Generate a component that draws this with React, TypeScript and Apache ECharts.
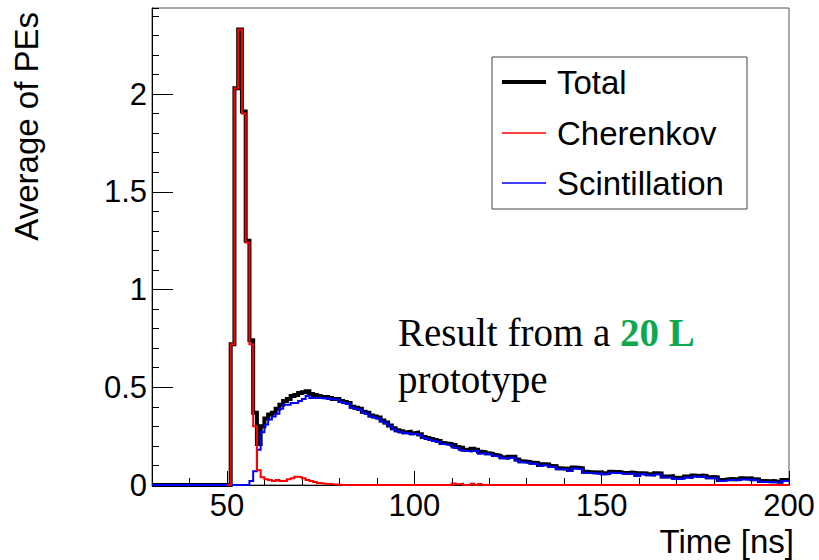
import React, { useEffect, useRef } from "react";
import * as echarts from "echarts";

// Histogram bins: 1 ns wide, left edges starting at binStart
const binStart = 30;
const binWidth = 1;
const cherenkovStart = 50;
const xMin = 30;
const xMax = 200;
const yMax = 2.44;

// Total, bins 30..199
const total = [
  0, 0, 0, 0, 0, 0, 0, 0, 0, 0,
  0, 0, 0, 0, 0, 0, 0, 0, 0, 0,
  0, 0.72, 2.03, 2.33, 1.91, 1.25, 0.74, 0.37, 0.21, 0.30,
  0.34, 0.36, 0.37, 0.39, 0.41, 0.43, 0.44, 0.455, 0.46, 0.47,
  0.475, 0.48, 0.465, 0.46, 0.455, 0.45, 0.45, 0.445, 0.44, 0.44,
  0.43, 0.425, 0.42, 0.40, 0.395, 0.39, 0.375, 0.37, 0.355, 0.35,
  0.345, 0.33, 0.32, 0.305, 0.29, 0.28, 0.275, 0.27, 0.272, 0.265,
  0.268, 0.26, 0.245, 0.24, 0.235, 0.23, 0.225, 0.215, 0.212, 0.21,
  0.205, 0.195, 0.19, 0.18, 0.178, 0.185, 0.18, 0.17, 0.168, 0.162,
  0.16, 0.153, 0.15, 0.142, 0.14, 0.145, 0.145, 0.13, 0.122, 0.12,
  0.118, 0.114, 0.113, 0.102, 0.106, 0.105, 0.097, 0.096, 0.086, 0.085,
  0.084, 0.077, 0.089, 0.088, 0.086, 0.068, 0.066, 0.065, 0.064, 0.065,
  0.06, 0.061, 0.068, 0.067, 0.066, 0.063, 0.062, 0.064, 0.062, 0.051,
  0.06, 0.059, 0.055, 0.054, 0.06, 0.059, 0.043, 0.044, 0.045, 0.037,
  0.036, 0.038, 0.043, 0.042, 0.048, 0.046, 0.049, 0.047, 0.04, 0.041,
  0.039, 0.026, 0.027, 0.03, 0.031, 0.029, 0.03, 0.034, 0.033, 0.034,
  0.03, 0.029, 0.02, 0.021, 0.019, 0.02, 0.018, 0.017, 0.026, 0.025,
];

// Scintillation, bins 30..199
const scintillation = [
  0, 0, 0, 0, 0, 0, 0, 0, 0, 0,
  0, 0, 0, 0, 0, 0, 0, 0, 0, 0,
  0, 0, 0, 0, 0, 0, 0.02, 0.07, 0.18, 0.27,
  0.31, 0.335, 0.35, 0.365, 0.39, 0.41, 0.41, 0.42, 0.42, 0.43,
  0.44, 0.455, 0.445, 0.445, 0.445, 0.442, 0.445, 0.44, 0.437, 0.437,
  0.425, 0.42, 0.415, 0.395, 0.39, 0.385, 0.37, 0.365, 0.35, 0.345,
  0.34, 0.325, 0.315, 0.30, 0.285, 0.275, 0.27, 0.265, 0.267, 0.26,
  0.263, 0.255, 0.24, 0.235, 0.23, 0.225, 0.22, 0.21, 0.207, 0.205,
  0.192, 0.19, 0.178, 0.175, 0.173, 0.174, 0.175, 0.16, 0.163, 0.157,
  0.155, 0.148, 0.145, 0.137, 0.135, 0.14, 0.14, 0.125, 0.117, 0.115,
  0.113, 0.109, 0.108, 0.097, 0.101, 0.1, 0.092, 0.091, 0.081, 0.08,
  0.079, 0.072, 0.084, 0.083, 0.081, 0.063, 0.061, 0.06, 0.059, 0.06,
  0.055, 0.056, 0.063, 0.062, 0.061, 0.058, 0.057, 0.059, 0.057, 0.046,
  0.055, 0.054, 0.05, 0.049, 0.055, 0.054, 0.038, 0.039, 0.04, 0.032,
  0.031, 0.033, 0.038, 0.037, 0.043, 0.041, 0.044, 0.042, 0.035, 0.036,
  0.034, 0.021, 0.022, 0.025, 0.026, 0.024, 0.025, 0.029, 0.028, 0.029,
  0.025, 0.024, 0.015, 0.016, 0.014, 0.015, 0.013, 0.012, 0.021, 0.02,
];

// Cherenkov, bins 50..199
const cherenkov = [
  0, 0.72, 2.03, 2.33, 1.90, 1.24, 0.72, 0.30, 0.075, 0.04,
  0.03, 0.025, 0.02, 0.025, 0.02, 0.02, 0.03, 0.035, 0.042, 0.04,
  0.035, 0.025, 0.02, 0.015, 0.01, 0.008, 0.005, 0.005, 0.003, 0.003,
  0, 0, 0, 0, 0, 0, 0, 0, 0, 0,
  0, 0, 0, 0, 0, 0, 0, 0, 0, 0,
  0, 0, 0, 0, 0, 0, 0, 0, 0, 0,
  0.008, 0.004, 0.007, 0, 0, 0.006, 0, 0.005, 0, 0,
  0, 0, 0, 0, 0, 0, 0, 0, 0, 0,
  0, 0, 0, 0, 0, 0, 0, 0, 0, 0,
  0, 0, 0, 0, 0, 0, 0, 0, 0, 0,
  0, 0, 0, 0, 0, 0, 0, 0, 0, 0,
  0, 0, 0, 0, 0, 0, 0, 0, 0, 0,
  0, 0, 0, 0, 0, 0, 0, 0, 0, 0,
  0, 0, 0, 0, 0, 0, 0, 0, 0, 0,
  0, 0, 0, 0, 0, 0, 0, 0, 0, 0,
];

const xMajorTicks = [50, 100, 150, 200];
const yMajorTicks = [0, 0.5, 1, 1.5, 2];
const legendNames = ["Total", "Cherenkov", "Scintillation"];
const seriesColors = ["#000000", "#ff0000", "#0000ff"];

function toSteps(values: number[], start: number): number[][] {
  const pts = values.map((v, i) => [start + i * binWidth, v]);
  pts.push([start + values.length * binWidth, values[values.length - 1]]);
  return pts;
}

const SANS = "'Liberation Sans', Arial, Helvetica, sans-serif";
const SERIF = "'Liberation Serif', 'Times New Roman', serif";

function buildOption(): any {
  const legendTop = 57;
  const rowYs = [82, 133, 183];
  const legendWidths = [4, 1.5, 1.5];
  const legendGraphics: any[] = [
    {
      type: "rect",
      shape: { x: 492, y: legendTop, width: 255, height: 152 },
      style: { fill: "#fff", stroke: "#444", lineWidth: 1 },
      z: 10,
    },
  ];
  legendNames.forEach((name, i) => {
    legendGraphics.push({
      type: "line",
      shape: { x1: 502, y1: rowYs[i], x2: 546, y2: rowYs[i] },
      style: { stroke: seriesColors[i], lineWidth: legendWidths[i] },
      z: 11,
    });
    legendGraphics.push({
      type: "text",
      x: 557,
      y: rowYs[i],
      style: {
        text: name,
        fontFamily: SANS,
        fontSize: 33,
        fill: "#000",
        align: "left",
        verticalAlign: "middle",
      },
      z: 11,
    });
  });

  return {
    animation: false,
    backgroundColor: "#fff",
    grid: {
      left: 152,
      top: 8,
      width: 637,
      height: 477,
      show: true,
      borderColor: "#555",
      borderWidth: 1,
      backgroundColor: "transparent",
    },
    xAxis: [
      {
        type: "value",
        min: xMin,
        max: xMax,
        interval: 10,
        axisLine: { show: true, onZero: false, lineStyle: { color: "#000", width: 1 } },
        axisTick: { show: true, inside: true, length: 7, lineStyle: { color: "#000" } },
        axisLabel: { show: false },
        splitLine: { show: false },
      },
      {
        type: "value",
        min: xMin,
        max: xMax,
        position: "bottom",
        axisLine: { show: false },
        axisTick: {
          show: true,
          inside: true,
          length: 14,
          customValues: xMajorTicks,
          lineStyle: { color: "#000" },
        },
        axisLabel: {
          show: true,
          customValues: xMajorTicks,
          color: "#000",
          fontSize: 31,
          fontFamily: SANS,
          margin: 5,
        },
        splitLine: { show: false },
      },
    ],
    yAxis: [
      {
        type: "value",
        min: 0,
        max: yMax,
        interval: 0.1,
        position: "left",
        axisLine: { show: true, onZero: false, lineStyle: { color: "#000", width: 1 } },
        axisTick: { show: true, inside: true, length: 7, lineStyle: { color: "#000" } },
        axisLabel: { show: false },
        splitLine: { show: false },
      },
      {
        type: "value",
        min: 0,
        max: yMax,
        position: "left",
        axisLine: { show: false },
        axisTick: {
          show: true,
          inside: true,
          length: 21,
          customValues: yMajorTicks,
          lineStyle: { color: "#000" },
        },
        axisLabel: {
          show: true,
          customValues: yMajorTicks,
          color: "#000",
          fontSize: 31,
          fontFamily: SANS,
          margin: 5,
        },
        splitLine: { show: false },
      },
    ],
    series: [
      {
        name: legendNames[0],
        type: "line",
        xAxisIndex: 0,
        yAxisIndex: 0,
        step: "end",
        data: toSteps(total, binStart),
        symbol: "none",
        showSymbol: false,
        clip: false,
        lineStyle: { color: seriesColors[0], width: 4, join: "miter" },
        z: 2,
      },
      {
        name: legendNames[2],
        type: "line",
        xAxisIndex: 0,
        yAxisIndex: 0,
        step: "end",
        data: toSteps(scintillation, binStart),
        symbol: "none",
        showSymbol: false,
        clip: false,
        lineStyle: { color: seriesColors[2], width: 2, join: "miter" },
        z: 3,
      },
      {
        name: legendNames[1],
        type: "line",
        xAxisIndex: 0,
        yAxisIndex: 0,
        step: "end",
        data: toSteps(cherenkov, cherenkovStart),
        symbol: "none",
        showSymbol: false,
        clip: false,
        lineStyle: { color: seriesColors[1], width: 2, join: "miter" },
        z: 4,
      },
    ],
    graphic: [
      ...legendGraphics,
      {
        type: "text",
        x: 794,
        y: 541,
        style: {
          text: "Time [ns]",
          fontFamily: SANS,
          fontSize: 33,
          fill: "#000",
          align: "right",
          verticalAlign: "middle",
        },
      },
      {
        type: "text",
        x: 26,
        y: 12,
        rotation: Math.PI / 2,
        style: {
          text: "Average of PEs",
          fontFamily: SANS,
          fontSize: 33,
          fill: "#000",
          align: "right",
          verticalAlign: "middle",
        },
      },
      {
        type: "text",
        x: 398,
        y: 332,
        style: {
          text: "{n|Result from a }{g|20 L}",
          verticalAlign: "middle",
          align: "left",
          rich: {
            n: { fontFamily: SERIF, fontSize: 39, fill: "#000" },
            g: { fontFamily: SERIF, fontSize: 39, fontWeight: "bold", fill: "#10a84f" },
          },
        },
        z: 12,
      },
      {
        type: "text",
        x: 398,
        y: 379,
        style: {
          text: "prototype",
          fontFamily: SERIF,
          fontSize: 39,
          fill: "#000",
          align: "left",
          verticalAlign: "middle",
        },
        z: 12,
      },
    ],
  };
}

export default function App() {
  const ref = useRef<HTMLDivElement>(null);
  useEffect(() => {
    if (!ref.current) return;
    const chart = echarts.init(ref.current, null, { renderer: "svg" });
    chart.setOption(buildOption());
    return () => {
      chart.dispose();
    };
  }, []);
  return (
    <div
      ref={ref}
      style={{ position: "absolute", left: 0, top: 0, width: 819, height: 560, background: "#fff" }}
    />
  );
}
